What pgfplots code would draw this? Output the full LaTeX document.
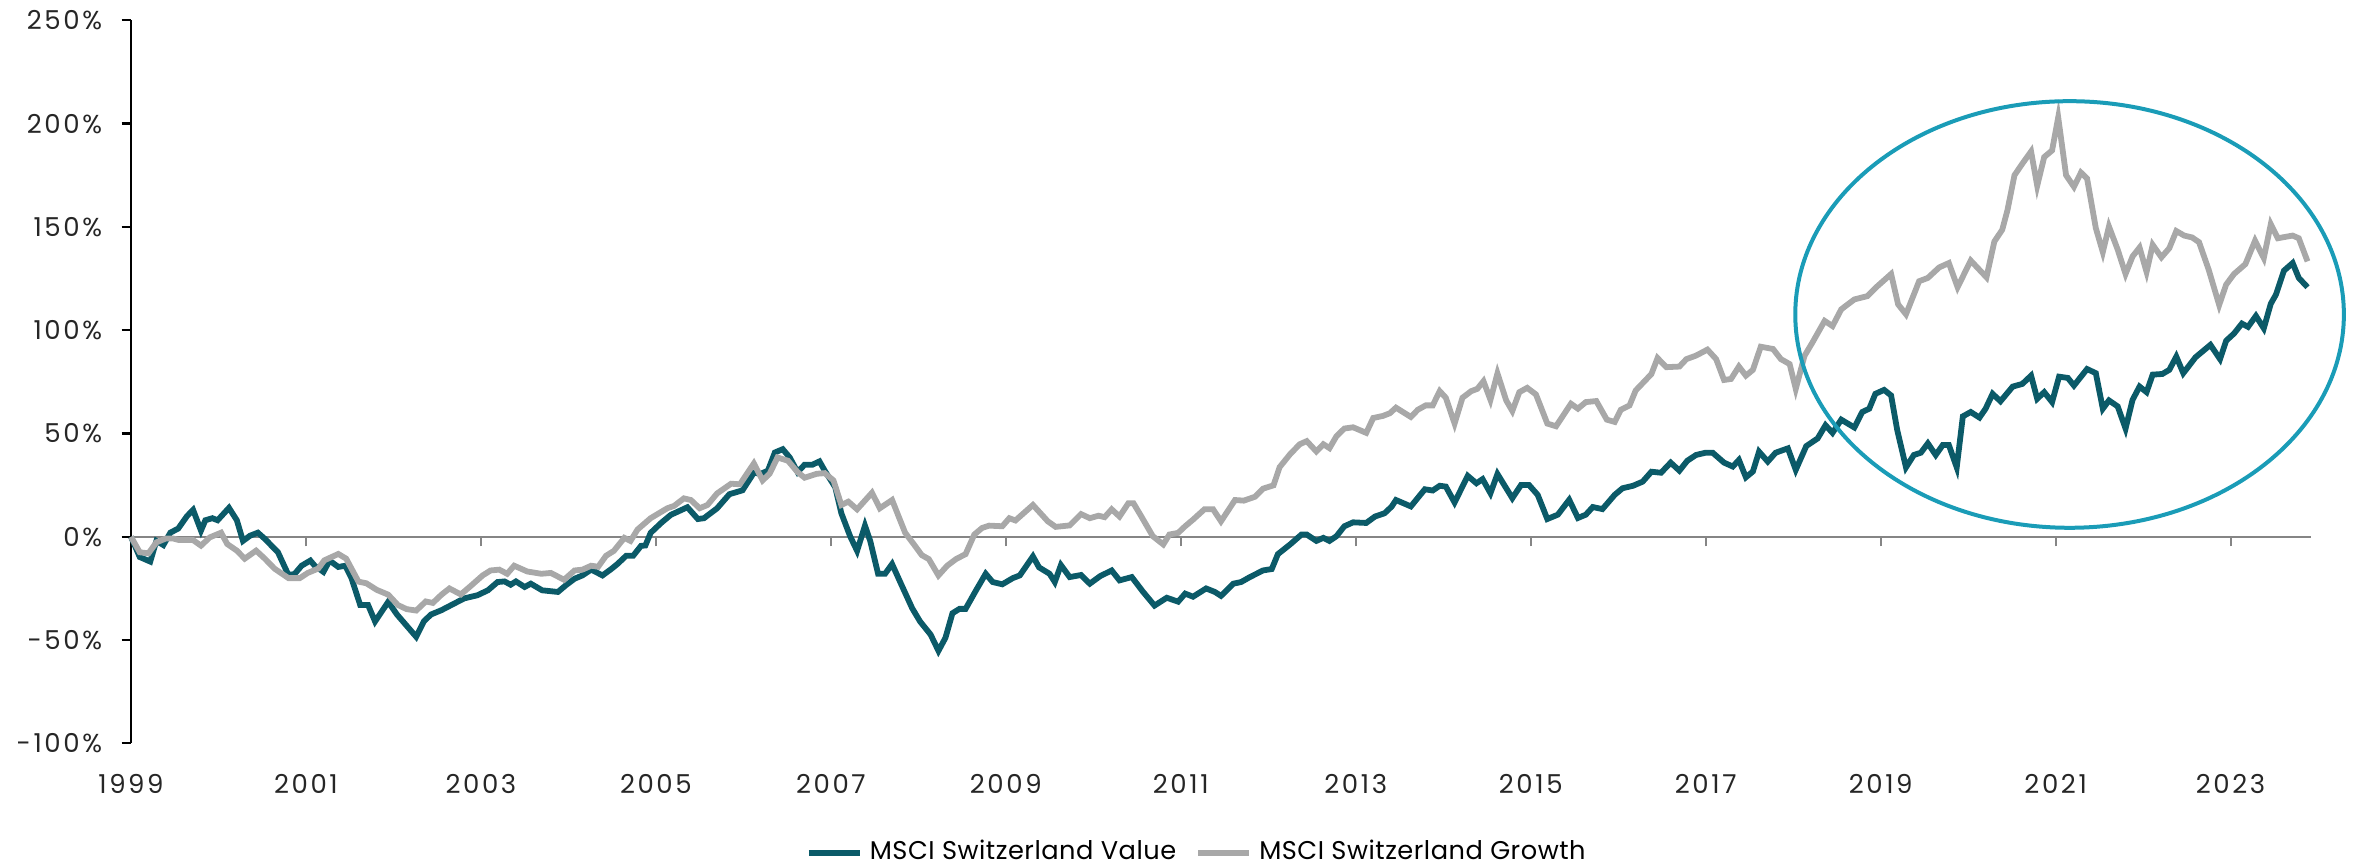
\documentclass[border=0pt]{standalone}
\usepackage{pgfplots}
\usepackage{pgfplotstable}
\pgfplotsset{compat=1.18}
\usepackage{fontspec}
\setmainfont{Poppins}
\newfontfamily\tickfont[LetterSpace=10]{Poppins}
\newfontfamily\legfont[LetterSpace=2]{Poppins}
\definecolor{valcol}{HTML}{0B5A68}
\definecolor{grocol}{HTML}{A8A8A8}
\definecolor{ellcol}{HTML}{1A9CB7}
\definecolor{zerocol}{HTML}{858585}

\pgfplotstableread{
x y
1999.00 0
1999.10 -9.8
1999.22 -12
1999.29 -2
1999.37 -4
1999.45 2
1999.54 4
1999.64 10
1999.71 13
1999.80 3
1999.85 8
1999.93 9
1999.99 8
2000.12 14
2000.21 8
2000.28 -2
2000.36 0.5
2000.45 2
2000.53 -1
2000.68 -7.5
2000.80 -18.5
2000.87 -18
2000.95 -14
2001.05 -11.5
2001.10 -14
2001.20 -17
2001.27 -11.5
2001.37 -14.6
2001.45 -14
2001.52 -20
2001.62 -33
2001.71 -33
2001.79 -41
2001.94 -31.5
2002.04 -37.6
2002.15 -43
2002.26 -48.4
2002.35 -40.8
2002.43 -37.6
2002.55 -35.5
2002.70 -32.2
2002.81 -29.8
2002.96 -28.3
2003.08 -25.9
2003.19 -21.9
2003.27 -21.6
2003.34 -23.2
2003.40 -21.6
2003.50 -24.3
2003.57 -22.7
2003.70 -25.9
2003.88 -26.7
2003.97 -23.5
2004.07 -20.3
2004.16 -18.7
2004.26 -15.9
2004.39 -18.7
2004.49 -15.6
2004.56 -13.2
2004.66 -9.2
2004.74 -9.2
2004.83 -4.4
2004.88 -4.2
2004.94 1.9
2005.06 6.7
2005.17 10.6
2005.36 14.3
2005.48 8.6
2005.55 9
2005.70 13.8
2005.84 20.6
2005.99 22.5
2006.12 31
2006.20 30.5
2006.28 32
2006.36 40.8
2006.45 42.4
2006.53 38.4
2006.62 31.3
2006.70 34.9
2006.79 34.9
2006.87 36.5
2006.93 32
2007.05 24
2007.12 11.4
2007.22 0.3
2007.30 -6.8
2007.39 5.4
2007.45 -2
2007.54 -17.9
2007.62 -17.9
2007.70 -13.2
2007.81 -23.5
2007.93 -34.6
2008.02 -41
2008.14 -47.3
2008.23 -55.2
2008.31 -48.9
2008.39 -37
2008.47 -34.9
2008.54 -34.9
2008.66 -25.9
2008.77 -17.9
2008.85 -21.9
2008.96 -23
2009.08 -20
2009.16 -18.7
2009.31 -9.5
2009.38 -14.8
2009.50 -17.9
2009.56 -21.9
2009.63 -13.7
2009.73 -19.5
2009.86 -18.5
2009.96 -22.7
2010.08 -19
2010.21 -16.3
2010.30 -21.1
2010.44 -19.5
2010.57 -26.7
2010.70 -33.3
2010.84 -29.5
2010.97 -31.4
2011.05 -27.5
2011.14 -29
2011.29 -25
2011.39 -26.7
2011.46 -28.6
2011.60 -22.7
2011.69 -21.9
2011.79 -19.5
2011.94 -16.3
2012.04 -15.6
2012.11 -8.4
2012.25 -3.7
2012.38 1.1
2012.44 1.1
2012.55 -2
2012.63 -0.5
2012.70 -2
2012.78 0.3
2012.87 5.1
2012.97 7
2013.12 6.7
2013.22 9.8
2013.33 11.4
2013.41 14.6
2013.46 17.8
2013.63 14.7
2013.79 23
2013.88 22.4
2013.96 24.7
2014.03 24.3
2014.13 16.6
2014.28 29.5
2014.38 25.9
2014.45 27.9
2014.54 21.1
2014.62 30.4
2014.79 18.7
2014.89 25.1
2014.98 25.1
2015.08 20.3
2015.19 8.6
2015.31 10.7
2015.44 17.9
2015.54 9.1
2015.63 10.7
2015.71 14.4
2015.82 13.4
2015.96 20.3
2016.05 23.5
2016.17 24.7
2016.28 26.7
2016.38 31.5
2016.49 31
2016.60 35.9
2016.70 32
2016.79 36.8
2016.89 39.6
2017.00 40.7
2017.08 40.7
2017.21 35.9
2017.31 34
2017.38 37.2
2017.46 28.8
2017.54 31.6
2017.61 41.2
2017.71 36.4
2017.80 40.7
2017.94 42.8
2018.03 32.4
2018.15 43.9
2018.28 47.6
2018.37 54
2018.45 50.3
2018.55 56.7
2018.70 52.9
2018.79 60.4
2018.87 62
2018.94 69.2
2019.04 71.1
2019.12 68.4
2019.19 51.6
2019.29 33.6
2019.38 39.6
2019.46 40.7
2019.54 45.2
2019.63 39.6
2019.71 44.4
2019.78 44.4
2019.87 33.6
2019.94 58.3
2020.03 60.4
2020.13 57.7
2020.20 62
2020.28 69.2
2020.37 65.6
2020.51 72.7
2020.62 74
2020.72 78
2020.79 66.8
2020.87 70
2020.96 65.2
2021.04 77.5
2021.14 76.9
2021.21 73.2
2021.36 81.2
2021.46 79.2
2021.54 62
2021.61 66
2021.71 63.1
2021.80 52.4
2021.88 66.3
2021.96 72.7
2022.04 70
2022.11 78.5
2022.22 78.8
2022.30 80.8
2022.38 87.2
2022.46 79.2
2022.60 86.9
2022.77 92.9
2022.88 86
2022.95 94.9
2023.04 98.4
2023.13 103.2
2023.20 101.6
2023.29 106.9
2023.38 100.9
2023.46 112.8
2023.52 117.3
2023.61 128.8
2023.71 132.5
2023.78 125.3
2023.88 120.8
}\valuetable

\pgfplotstableread{
x y
1999.00 0
1999.10 -7.5
1999.20 -8
1999.29 -2.7
1999.40 -0.8
1999.48 -0.8
1999.55 -1.6
1999.71 -1.6
1999.80 -4.3
1999.90 -0.3
2000.03 2
2000.10 -3.5
2000.21 -6.7
2000.30 -10.6
2000.43 -6.7
2000.53 -10.6
2000.64 -15.4
2000.80 -20
2000.93 -20
2001.02 -17.5
2001.14 -15.4
2001.21 -11.4
2001.37 -8.3
2001.46 -10.6
2001.60 -21.7
2001.69 -22.5
2001.81 -25.7
2001.94 -28
2002.05 -33
2002.15 -35
2002.26 -35.7
2002.37 -31.3
2002.45 -32
2002.55 -28
2002.64 -25
2002.77 -27.9
2002.87 -24.3
2003.02 -18.7
2003.11 -16.3
2003.21 -15.9
2003.30 -17.9
2003.38 -14
2003.53 -16.8
2003.69 -17.9
2003.80 -17.5
2003.95 -20.8
2004.07 -16.3
2004.16 -15.9
2004.26 -14
2004.34 -14.5
2004.43 -9.2
2004.52 -6.8
2004.64 -0.5
2004.71 -2
2004.79 3.5
2004.94 9
2005.13 13.8
2005.21 15
2005.32 18.6
2005.40 17.8
2005.50 13.8
2005.59 15.4
2005.70 21
2005.86 25.7
2005.96 25.4
2006.12 35.5
2006.22 27.3
2006.30 30.5
2006.39 38.4
2006.51 36.8
2006.62 31.3
2006.70 28.6
2006.84 30.5
2006.93 30.8
2007.03 27.3
2007.12 15.4
2007.20 17
2007.30 13.3
2007.47 21.3
2007.56 13.8
2007.70 17.8
2007.85 1.9
2007.95 -3.7
2008.04 -8.9
2008.12 -10.8
2008.23 -18.7
2008.33 -14
2008.43 -10.8
2008.54 -8.4
2008.64 1.1
2008.73 4.3
2008.81 5.4
2008.96 5.1
2009.04 9
2009.11 7.9
2009.31 15.4
2009.48 7.5
2009.57 4.8
2009.73 5.5
2009.86 11
2009.96 9
2010.06 10.2
2010.13 9.5
2010.21 13.3
2010.30 9.8
2010.40 16.2
2010.46 16.2
2010.55 9.8
2010.68 0.3
2010.80 -3.7
2010.87 1.1
2010.97 1.9
2011.05 5.1
2011.14 8.3
2011.27 13.3
2011.37 13.3
2011.46 7.5
2011.62 17.8
2011.72 17.5
2011.85 19.4
2011.94 23.3
2012.06 24.9
2012.13 33.7
2012.25 40
2012.36 44.8
2012.44 46.3
2012.55 41.3
2012.63 44.8
2012.70 42.9
2012.78 48.7
2012.87 52.4
2012.97 53
2013.12 50.3
2013.20 57.5
2013.31 58.5
2013.39 59.8
2013.46 62.5
2013.63 58
2013.71 61.5
2013.80 63.6
2013.88 63.6
2013.96 70.5
2014.03 67.3
2014.13 54.8
2014.22 67.3
2014.32 70.5
2014.39 71.6
2014.46 75.3
2014.54 66.3
2014.62 79.1
2014.72 66
2014.79 60.9
2014.87 70
2014.96 72.1
2015.06 68.9
2015.19 54.8
2015.29 53.5
2015.46 64.4
2015.54 62
2015.63 65.2
2015.75 65.7
2015.87 56.7
2015.96 55.6
2016.03 61.5
2016.13 63.6
2016.20 70.8
2016.38 78.8
2016.45 86.5
2016.55 82.1
2016.70 82.4
2016.78 86
2016.89 87.7
2017.02 90.6
2017.12 86
2017.21 75.9
2017.29 76.4
2017.38 82.4
2017.46 78
2017.54 80.8
2017.63 92
2017.77 90.9
2017.86 86
2017.96 83.6
2018.03 71.6
2018.13 87.6
2018.22 94
2018.36 104.5
2018.45 102
2018.55 110.1
2018.70 114.9
2018.85 116.5
2018.95 120.8
2019.12 127.2
2019.20 112.5
2019.29 107.7
2019.44 123.7
2019.54 125.3
2019.67 130.4
2019.78 132.5
2019.88 120.8
2020.03 133.7
2020.21 125.6
2020.30 142.9
2020.39 148.6
2020.45 158.1
2020.53 175
2020.62 180.6
2020.72 186.5
2020.79 169.9
2020.87 183.8
2020.96 187
2021.03 203
2021.12 175
2021.21 169.4
2021.29 176.3
2021.36 173.4
2021.46 149.4
2021.54 137.8
2021.61 150.2
2021.71 139
2021.80 127.2
2021.88 135.7
2021.96 140
2022.04 128.2
2022.11 141.3
2022.21 135.3
2022.30 139.7
2022.38 148
2022.47 145.8
2022.56 144.9
2022.64 142.6
2022.75 129.3
2022.87 112.2
2022.95 122.1
2023.04 127.2
2023.17 132
2023.28 143.3
2023.38 134.9
2023.46 151.3
2023.54 144.5
2023.71 145.8
2023.78 144.5
2023.88 133.3
}\growthtable

\begin{document}
\begin{tikzpicture}
\begin{axis}[
  name=ax,
  scale only axis,
  width=218mm, height=72.31mm,
  xmin=1999, xmax=2023.92,
  ymin=-100, ymax=250,
  clip=false,
  axis x line=middle,
  axis y line=left,
  hide obscured x ticks=false,
  x axis line style={-, draw=zerocol, line width=0.25mm},
  y axis line style={-, draw=black, line width=0.25mm},
  xtick={1999,2001,...,2023},
  ytick={-100,-50,...,250},
  xtick align=outside,
  ytick align=outside,
  major tick length=0.95mm,
  x tick style={draw=zerocol, line width=0.22mm},
  y tick style={draw=black, line width=0.22mm},
  /pgf/number format/assume math mode=true,
  /pgf/number format/1000 sep={},
  tick label style={font=\tickfont\fontsize{7.4}{9}\selectfont, text=black!85},
  xticklabel style={anchor=north, yshift=-21.6mm},
  yticklabel={\pgfmathprintnumber{\tick}\%},
  yticklabel style={anchor=east, xshift=-0.7mm},
  legend style={at={(0.49,-0.151)}, anchor=center, draw=none, fill=none,
    inner sep=0pt, outer sep=0pt,
    font=\legfont\fontsize{7.3}{9}\selectfont, legend columns=2,
    /tikz/every even column/.append style={column sep=1.2mm}},
  legend image code/.code={\draw[#1, line width=0.6mm] (0mm,0mm) -- (5.1mm,0mm);},
]
\addplot[color=valcol, line width=0.58mm] table[x=x,y=y] {\valuetable};
\addlegendentry{MSCI Switzerland Value}
\addplot[color=grocol, line width=0.58mm] table[x=x,y=y] {\growthtable};
\addlegendentry{MSCI Switzerland Growth}
\draw[ellcol, line width=0.4mm] (axis cs:2021.16,107.6) ellipse [x radius=27.43mm, y radius=21.33mm];
\end{axis}
\pgfresetboundingbox
\path[use as bounding box] (ax.south west) ++(-13.1mm,-12.06mm) rectangle ++(235.6mm,86.4mm);
\end{tikzpicture}
\end{document}
